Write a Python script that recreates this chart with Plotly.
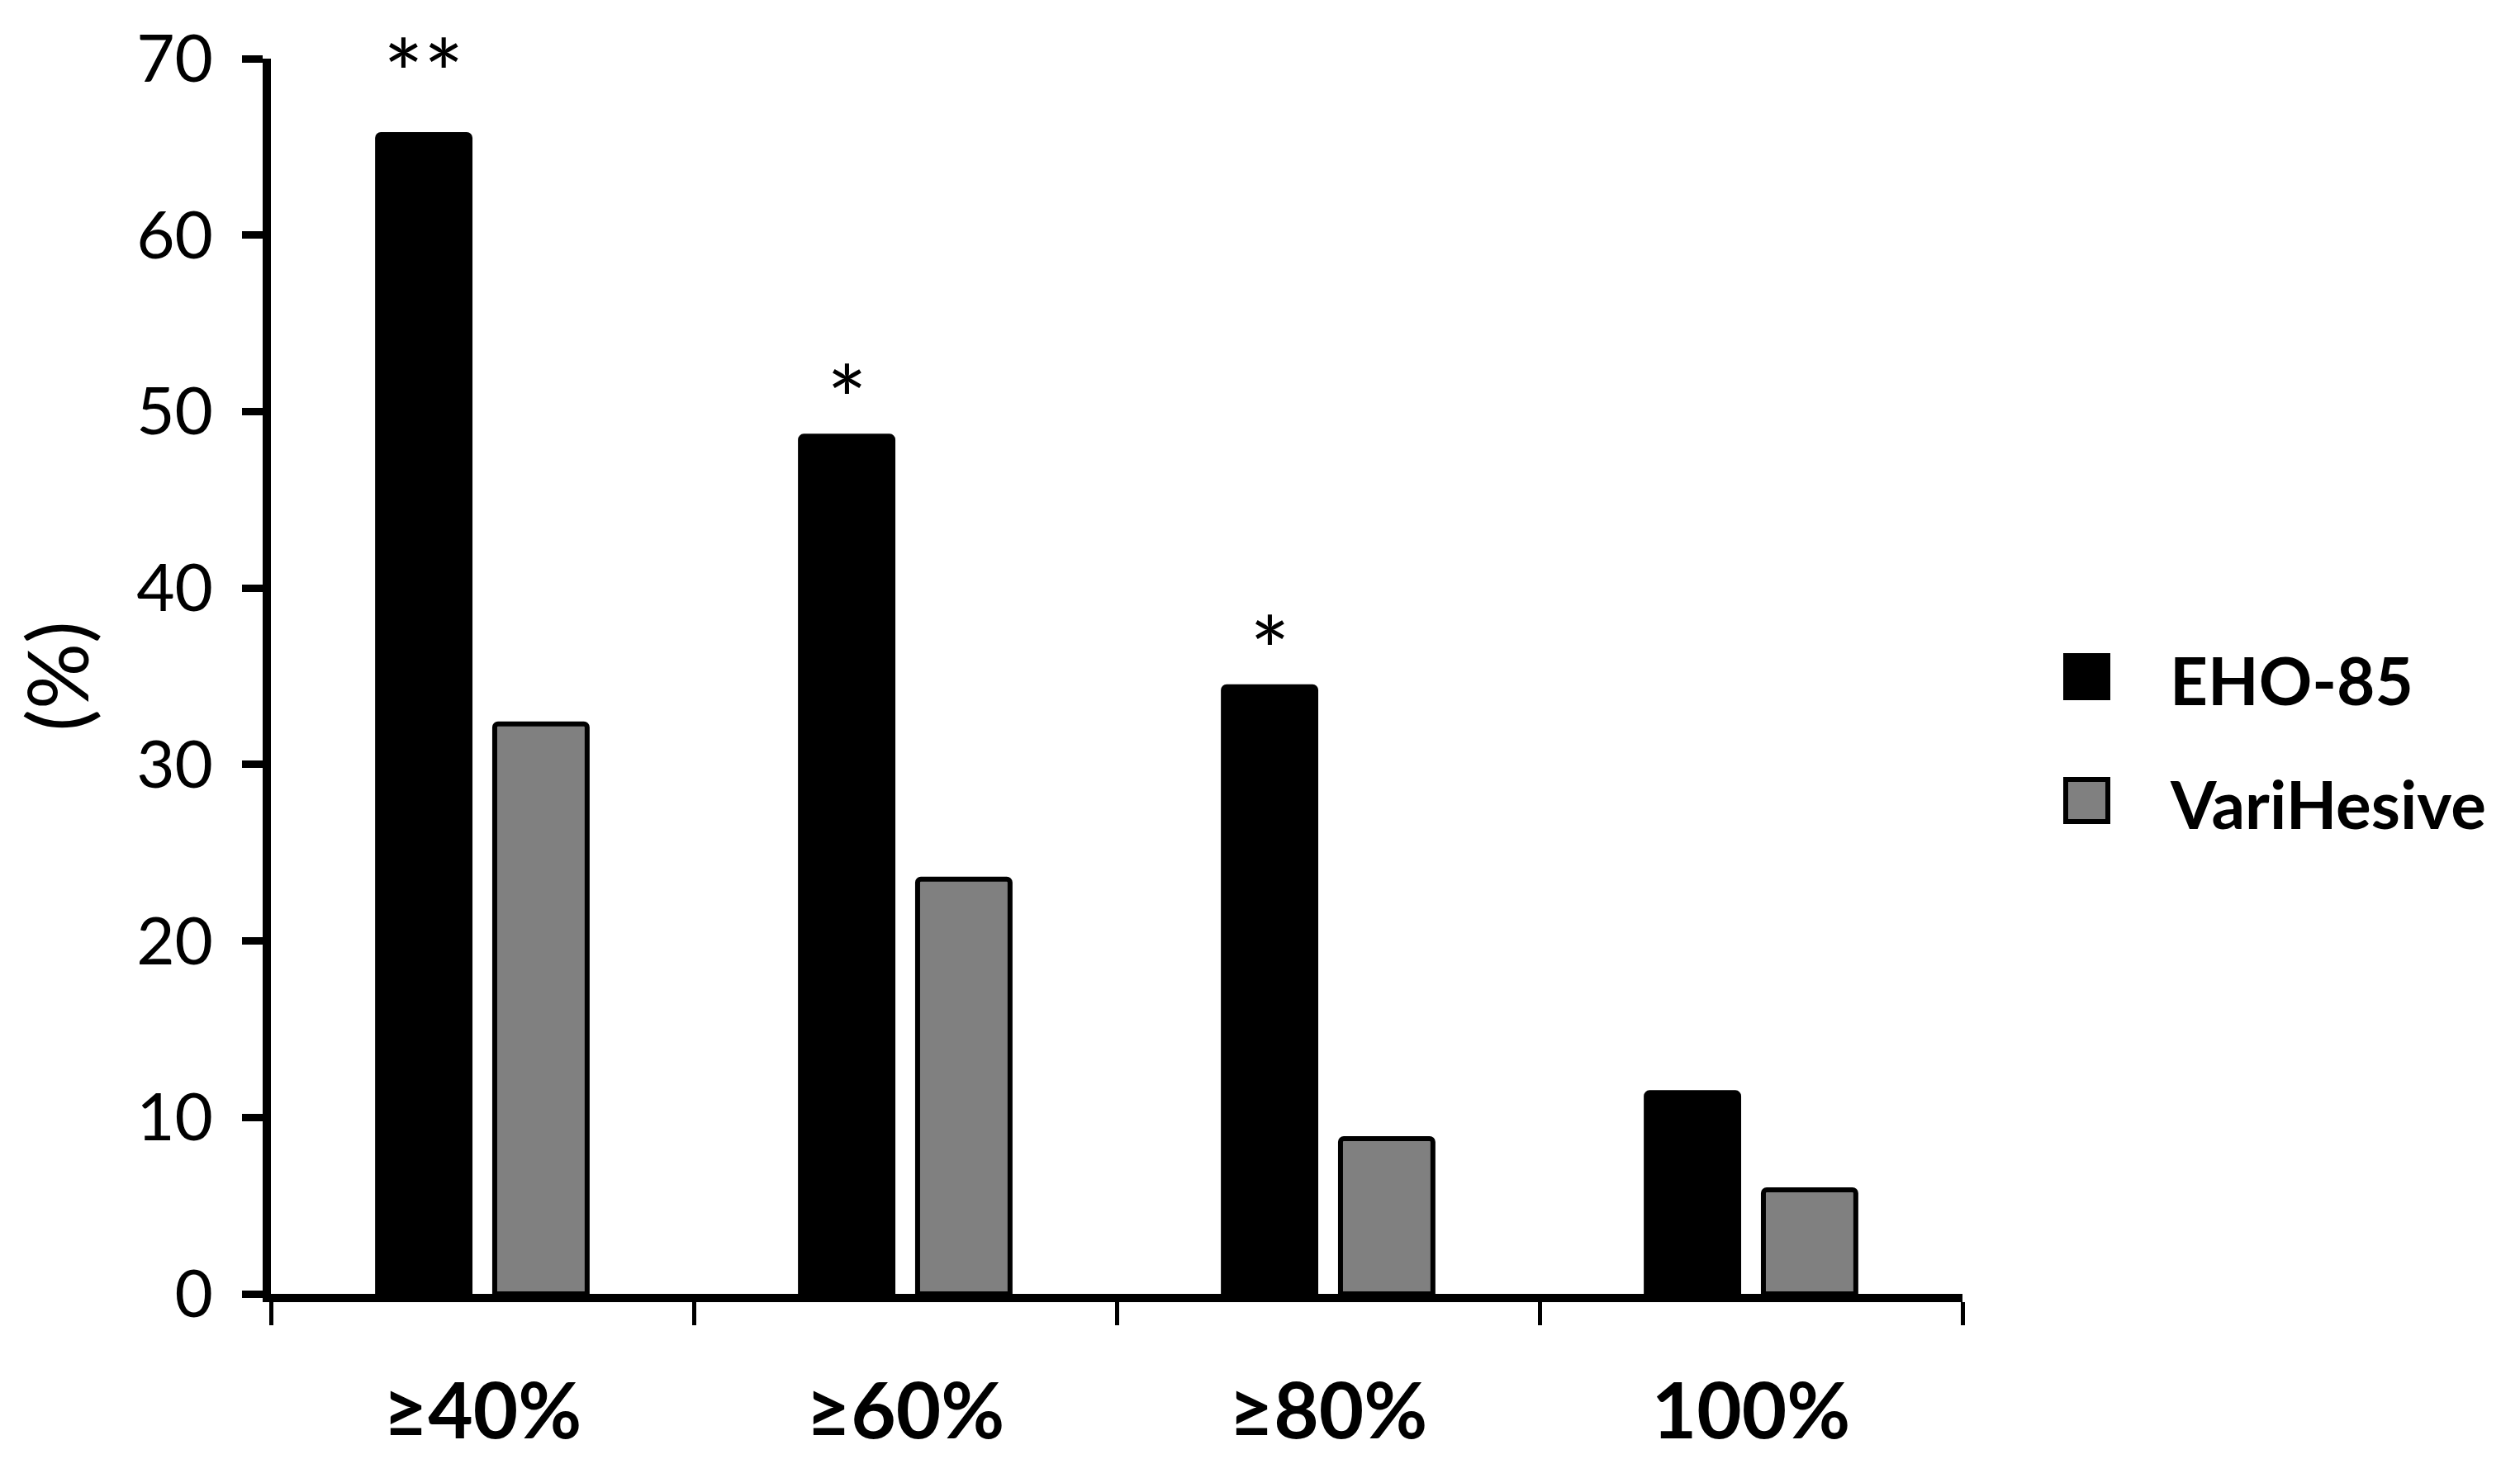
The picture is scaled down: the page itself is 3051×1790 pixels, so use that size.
import plotly.graph_objects as go

# ---- data ----
categories = ["≥40%", "≥60%", "≥80%", "100%"]
series_names = ["EHO-85", "VariHesive"]
eho85 = [65.7, 48.6, 34.4, 11.4]
varihesive = [32.3, 23.5, 8.8, 5.9]
significance = ["**", "*", "*", ""]
y_ticks = [0, 10, 20, 30, 40, 50, 60, 70]
y_title = "(%)"

# ---- style / layout ----
W, H = 3051, 1790
ML, MR, MT, MB = 320, 683, 63, 231
BARGAP = 0.446
BARGROUPGAP = 0.211
FONT = "Lato"
colors = ["#000000", "#808080"]
star_extra_shift = {"**": 30, "*": 0}

fig = go.Figure()
for name, vals, col in zip(series_names, [eho85, varihesive], colors):
    fig.add_trace(go.Bar(
        x=categories, y=vals, name=name,
        marker=dict(color=col, line=dict(color="black", width=6), cornerradius=4),
        showlegend=False,
    ))

plot_w = W - ML - MR
cat_w = plot_w / len(categories)
slot = (1 - BARGAP) * cat_w / len(series_names)

annotations = []
for cat, v, s in zip(categories, eho85, significance):
    if s:
        annotations.append(dict(
            x=cat, y=v, xref="x", yref="y", text=s, showarrow=False,
            yanchor="bottom", xanchor="center", xshift=-slot / 2,
            yshift=-24 + star_extra_shift.get(s, 0),
            font=dict(family=FONT, size=115, color="black"),
        ))

# custom legend (large swatches like the original)
legend_y_offsets = [0, -150]
shapes = []
for name, col, dy in zip(series_names, colors, legend_y_offsets):
    shapes.append(dict(
        type="rect", xref="paper", yref="paper",
        xsizemode="pixel", ysizemode="pixel", xanchor=1, yanchor=0.5,
        x0=125, x1=176, y0=dy - 26, y1=dy + 25,
        fillcolor=col, line=dict(color="black", width=6),
    ))
    annotations.append(dict(
        xref="paper", yref="paper", x=1, y=0.5, xshift=249, yshift=dy - 4,
        xanchor="left", yanchor="middle", text=name, showarrow=False,
        font=dict(family=FONT, size=80, color="black", weight="bold"),
    ))

fig.update_layout(
    width=W, height=H,
    margin=dict(l=ML, r=MR, t=MT, b=MB, autoexpand=False),
    paper_bgcolor="white", plot_bgcolor="white",
    barmode="group", bargap=BARGAP, bargroupgap=BARGROUPGAP,
    annotations=annotations, shapes=shapes,
    font=dict(family=FONT, color="black"),
)
fig.update_xaxes(
    type="category", range=[-0.5, len(categories) - 0.5],
    showline=True, linecolor="black", linewidth=10,
    ticks="outside", tickson="boundaries", ticklen=28, tickwidth=5, tickcolor="black",
    tickfont=dict(family=FONT, size=94, color="black", weight="bold"),
    ticklabelstandoff=52, showgrid=False, zeroline=False,
)
fig.update_yaxes(
    range=[0, 70], tickvals=y_ticks, ticktext=[str(t) for t in y_ticks],
    showline=True, linecolor="black", linewidth=10,
    ticks="outside", ticklen=25, tickwidth=9, tickcolor="black",
    tickfont=dict(family=FONT, size=80, color="black"),
    ticklabelstandoff=19, showgrid=False, zeroline=False,
    title=dict(text=y_title, font=dict(family=FONT, size=100, color="black"), standoff=45),
)

fig.write_html("out.html")
